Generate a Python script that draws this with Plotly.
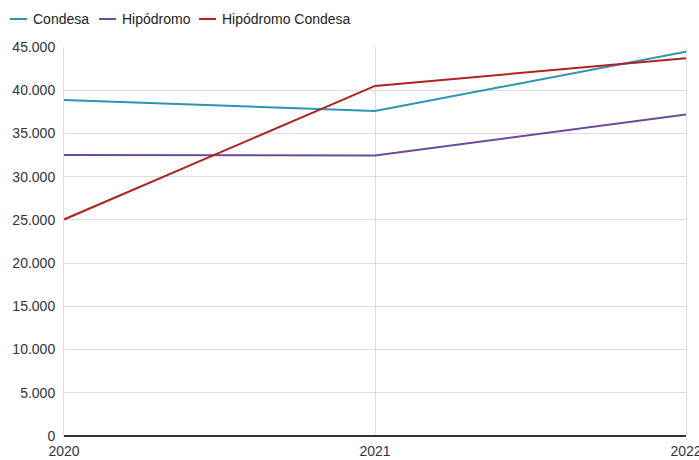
import plotly.graph_objects as go

years = [2020, 2021, 2022]
condesa = [38870, 37600, 44450]
hipodromo = [32500, 32450, 37200]
hipodromo_condesa = [25050, 40500, 43700]

names = ["Condesa", "Hipódromo", "Hipódromo Condesa"]
values = [condesa, hipodromo, hipodromo_condesa]
colors = ["#2b95b3", "#6b4b9e", "#b2201f"]

W, H = 699, 460
ML, MR, MT, MB = 64, 13, 47, 24
PW, PH = W - ML - MR, H - MT - MB

fig = go.Figure()
for name, vals, color in zip(names, values, colors):
    fig.add_trace(go.Scatter(x=years, y=vals, name=name, mode="lines",
                             line=dict(color=color, width=2), showlegend=False))

# custom compact legend (pixel layout -> paper coords)
leg_px = [10, 99, 199]
leg_y = 19
def px_x(p):
    return (p - ML) / PW
def px_y(p):
    return (H - MB - p) / PH

for name, color, lx in zip(names, colors, leg_px):
    fig.add_shape(type="line", xref="paper", yref="paper",
                  x0=px_x(lx), x1=px_x(lx + 17), y0=px_y(leg_y), y1=px_y(leg_y),
                  line=dict(color=color, width=2))
    fig.add_annotation(xref="paper", yref="paper", x=px_x(lx + 21), y=px_y(leg_y),
                       xanchor="left", yanchor="middle", showarrow=False,
                       text=name, font=dict(size=14, color="#222222"))

fig.update_layout(
    width=W, height=H,
    margin=dict(l=ML, r=MR, t=MT, b=MB, autoexpand=False),
    paper_bgcolor="white", plot_bgcolor="white",
    separators=",.",
    font=dict(family="Liberation Sans, Arial, sans-serif", size=14, color="#333333"),
    showlegend=False,
    xaxis=dict(range=[2020, 2022], tickvals=years, ticktext=[str(y) for y in years],
               showgrid=True, gridcolor="#dddddd", gridwidth=1,
               zeroline=False, showline=False, ticks="", ticklen=0,
               automargin=False, ticklabelstandoff=5, ticklabeloverflow="allow",
               tickfont=dict(size=14, color="#333333")),
    yaxis=dict(range=[0, 45000], dtick=5000, tickformat=",",
               showgrid=True, gridcolor="#dddddd", gridwidth=1,
               zeroline=True, zerolinecolor="#333333", zerolinewidth=2,
               showline=True, linecolor="#dddddd", linewidth=1, mirror=True,
               ticks="", ticklabelstandoff=5, automargin=False,
               tickfont=dict(size=14, color="#333333")),
)

fig.write_html("out.html",
               config={"displayModeBar": False},
               post_script="document.body.style.margin='0px';document.body.style.overflow='hidden';")
